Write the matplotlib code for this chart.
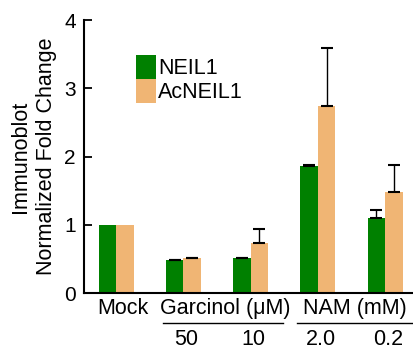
import matplotlib
matplotlib.use('Agg')
import matplotlib.pyplot as plt
import numpy as np

plt.rcParams['font.family'] = ['Liberation Sans', 'DejaVu Sans']

groups = ['Mock', 'G50', 'G10', 'N2.0', 'N0.2']
neil1 = [1.0, 0.48, 0.51, 1.865, 1.095]
neil1_err = [0.0, 0.01, 0.01, 0.015, 0.125]
acneil1 = [1.0, 0.51, 0.73, 2.745, 1.485]
acneil1_err = [0.0, 0.01, 0.21, 0.845, 0.395]
dose_labels = ['50', '10', '2.0', '0.2']

green = '#008000'
orange = '#F0B574'

fig = plt.figure(figsize=(4.14, 3.51), dpi=100)
ax = fig.add_axes([0.203, 0.165, 0.797, 0.778])

x = np.arange(len(groups))
w = 0.26
ax.bar(x - w/2, neil1, w, color=green, label='NEIL1')
ax.bar(x + w/2, acneil1, w, color=orange, label='AcNEIL1')
# Mock is the reference (no error bar)
n = len(x) - 1
ax.errorbar(x[1:] - w/2, neil1[1:], yerr=[np.zeros(n), neil1_err[1:]], fmt='none',
            ecolor='black', elinewidth=1, capsize=4.5, capthick=1.5)
ax.errorbar(x[1:] + w/2, acneil1[1:], yerr=[np.zeros(n), acneil1_err[1:]], fmt='none',
            ecolor='black', elinewidth=1, capsize=4.5, capthick=1.5)

ax.set_xlim(-0.48, 4.43)
ax.set_ylim(0, 4)
ax.set_yticks([0, 1, 2, 3, 4])
ax.tick_params(axis='y', direction='in', length=6, width=1.3, labelsize=15, pad=6)
ax.set_xticks([])
for s in ['top', 'right']:
    ax.spines[s].set_visible(False)
ax.spines['left'].set_linewidth(1.5)
ax.spines['bottom'].set_linewidth(1.5)
ax.set_ylabel('Immunoblot\nNormalized Fold Change', fontsize=15.5, linespacing=1.3, labelpad=5)

leg = ax.legend(loc='upper left', bbox_to_anchor=(0.13, 0.905), frameon=False, fontsize=15.5,
                handlelength=0.95, handleheight=1.35, handletextpad=0.1, labelspacing=0.0,
                borderaxespad=0)

trans = ax.get_xaxis_transform()
fs = 15.5
ax.text(0.1, -0.055, 'Mock', transform=trans, ha='center', va='center', fontsize=fs)
ax.text(1.62, -0.055, 'Garcinol (\u03bcM)', transform=trans, ha='center', va='center', fontsize=fs)
ax.text(3.55, -0.055, 'NAM (mM)', transform=trans, ha='center', va='center', fontsize=fs)
ax.plot([0.69, 2.48], [-0.111, -0.111], transform=trans, color='black', lw=1, clip_on=False)
ax.plot([2.69, 4.43], [-0.111, -0.111], transform=trans, color='black', lw=1, clip_on=False)
for xi, lab in zip(x[1:], dose_labels):
    ax.text(xi + 0.04, -0.17, lab, transform=trans, ha='center', va='center', fontsize=fs)

fig.savefig('out.png', dpi=100)
